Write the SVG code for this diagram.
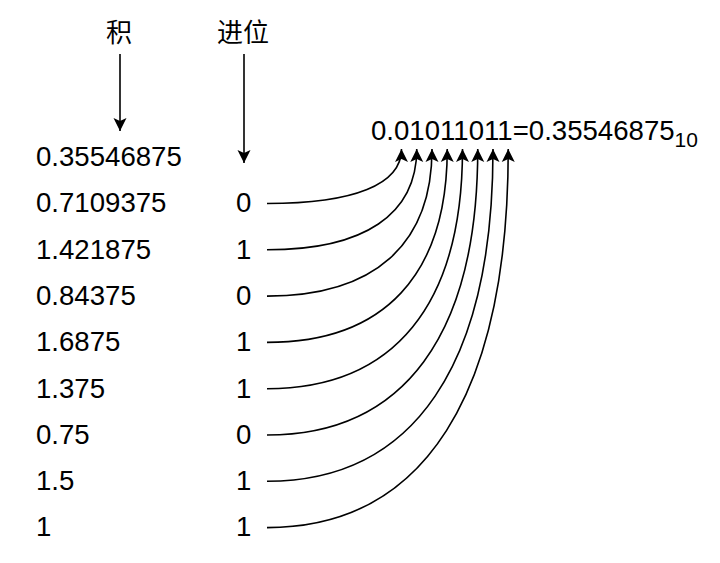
<svg xmlns="http://www.w3.org/2000/svg" width="720" height="563" viewBox="0 0 720 563">
<style>
text{font-family:"Liberation Sans","Noto Sans CJK SC",sans-serif;font-size:27.6px;fill:#000}
.cjk{font-family:"Noto Sans CJK SC","Liberation Sans",sans-serif;font-size:26px}
.sub{font-size:21px}
.c{fill:none;stroke:#000;stroke-width:1.6}
</style>
<defs>
<marker id="arr" markerUnits="userSpaceOnUse" viewBox="0 0 14 14" markerWidth="14" markerHeight="14" refX="13" refY="7" orient="auto">
<path d="M0,0.5 L13,7 L0,13.5 L3,7 Z" fill="#000"/>
</marker>
</defs>
<rect width="720" height="563" fill="#fff"/>
<g id="header-product"><text class="cjk" x="106" y="42">积</text></g>
<g id="header-carry"><text class="cjk" x="217" y="42">进位</text></g>
<g id="result"><text x="371" y="140">0.01011011=0.35546875<tspan class="sub" dy="7">10</tspan></text></g>
<g id="products">
<text x="36" y="166">0.35546875</text>
<text x="36" y="212.3">0.7109375</text>
<text x="36" y="258.6">1.421875</text>
<text x="36" y="304.9">0.84375</text>
<text x="36" y="351.2">1.6875</text>
<text x="36" y="397.5">1.375</text>
<text x="36" y="443.8">0.75</text>
<text x="36" y="490.1">1.5</text>
<text x="36" y="536.4">1</text>
</g>
<g id="carries">
<text x="236" y="212.3">0</text>
<text x="236" y="258.6">1</text>
<text x="236" y="304.9">0</text>
<text x="236" y="351.2">1</text>
<text x="236" y="397.5">1</text>
<text x="236" y="443.8">0</text>
<text x="236" y="490.1">1</text>
<text x="236" y="536.4">1</text>
</g>
<g id="connectors" class="c">
<path class="c" marker-end="url(#arr)" d="M120,54 L120,131"/>
<path class="c" marker-end="url(#arr)" d="M244,54 L244,163"/>
<path class="c" marker-end="url(#arr)" d="M267,203.5 C354.4,203.5 401.5,184.4 401.5,149"/>
<path class="c" marker-end="url(#arr)" d="M267,249.8 C364.4,249.8 416.75,214.5 416.75,149"/>
<path class="c" marker-end="url(#arr)" d="M267,296.1 C374.3,296.1 432,244.6 432,149"/>
<path class="c" marker-end="url(#arr)" d="M267,342.4 C384.2,342.4 447.25,274.7 447.25,149"/>
<path class="c" marker-end="url(#arr)" d="M267,388.7 C394.1,388.7 462.5,304.8 462.5,149"/>
<path class="c" marker-end="url(#arr)" d="M267,435 C404,435 477.75,334.9 477.75,149"/>
<path class="c" marker-end="url(#arr)" d="M267,481.3 C413.9,481.3 493,365 493,149"/>
<path class="c" marker-end="url(#arr)" d="M267,527.6 C423.9,527.6 508.25,395.1 508.25,149"/>
</g>
</svg>
